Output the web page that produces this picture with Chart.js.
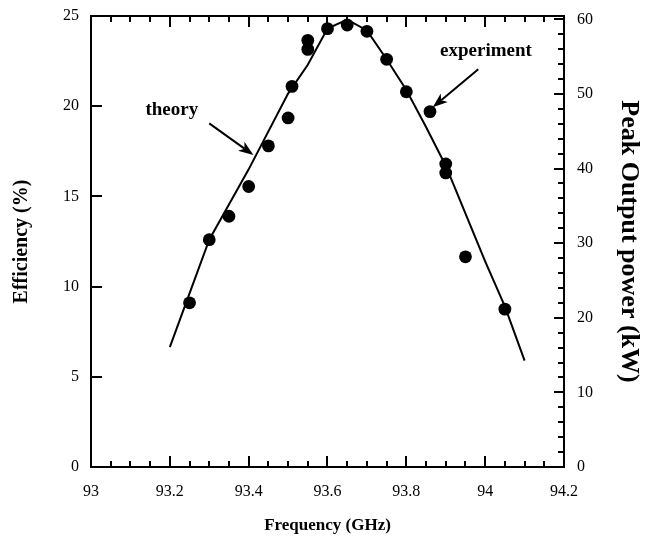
<!DOCTYPE html>
<html>
<head>
<meta charset="utf-8">
<script src="https://cdn.jsdelivr.net/npm/chart.js@4.4.1/dist/chart.umd.min.js"></script>
<style>
  html, body { margin: 0; padding: 0; background: #fff; }
  #wrap { width: 648px; height: 546px; }
</style>
</head>
<body>
<div id="wrap"><canvas id="c" width="648" height="546"></canvas></div>
<script>
// ---- data ----
const expFreq = [93.25, 93.3, 93.35, 93.4, 93.45, 93.5, 93.51, 93.55, 93.55, 93.6, 93.65, 93.7, 93.75, 93.8, 93.86, 93.9, 93.9, 93.95, 94.05];
const expEff  = [9.1, 12.6, 13.9, 15.55, 17.8, 19.35, 21.1, 23.65, 23.15, 24.3, 24.5, 24.15, 22.6, 20.8, 19.7, 16.8, 16.3, 11.65, 8.75];

const theoryFreq = [93.2, 93.3, 93.4, 93.5, 93.55, 93.6, 93.65, 93.7, 93.75, 93.8, 93.85, 93.9, 94.0, 94.05, 94.1];
const theoryEff  = [6.65, 12.6, 16.5, 20.7, 22.3, 24.3, 24.8, 24.2, 22.6, 20.9, 18.85, 16.7, 11.4, 8.9, 5.9];

const xTicks = [93, 93.2, 93.4, 93.6, 93.8, 94, 94.2];
const xTickLabels = ['93', '93.2', '93.4', '93.6', '93.8', '94', '94.2'];
const effTicks = [0, 5, 10, 15, 20, 25];
const powTicks = [0, 10, 20, 30, 40, 50, 60];

const xRange = [93, 94.2];
const effRange = [0, 25];
const powRange = [0, 60.45];

// annotation anchors (data units: frequency, efficiency)
const theoryLabel = { text: 'theory', x: 93.205, y: 19.8 };
const theoryArrow = { from: [93.30, 19.05], to: [93.412, 17.29] };
const expLabel = { text: 'experiment', x: 94.002, y: 23.06 };
const expArrow = { from: [93.9825, 22.05], to: [93.867, 19.94] };

Chart.defaults.font.family = '"Liberation Serif", "Times New Roman", serif';
Chart.defaults.color = '#000';

function drawArrow(ctx, x0, y0, x1, y1) {
  const ang = Math.atan2(y1 - y0, x1 - x0);
  const L = 15, W = 5.5, back = 11;
  ctx.beginPath();
  ctx.moveTo(x0, y0);
  ctx.lineTo(x1 - Math.cos(ang) * back, y1 - Math.sin(ang) * back);
  ctx.stroke();
  ctx.beginPath();
  ctx.moveTo(x1, y1);
  const bx = x1 - Math.cos(ang) * L, by = y1 - Math.sin(ang) * L;
  const nx = -Math.sin(ang), ny = Math.cos(ang);
  ctx.lineTo(bx + nx * W, by + ny * W);
  ctx.lineTo(x1 - Math.cos(ang) * back, y1 - Math.sin(ang) * back);
  ctx.lineTo(bx - nx * W, by - ny * W);
  ctx.closePath();
  ctx.fill();
}

const framePlugin = {
  id: 'frame',
  afterDraw(chart) {
    const { ctx, chartArea: a, scales } = chart;
    const x = scales.x, y = scales.y, y1 = scales.y1;
    ctx.save();
    ctx.strokeStyle = '#000';
    ctx.fillStyle = '#000';
    ctx.lineWidth = 2;
    ctx.lineCap = 'butt';
    ctx.strokeRect(a.left, a.top, a.right - a.left, a.bottom - a.top);
    ctx.beginPath();
    // x ticks every 0.05 (bottom pointing up, top pointing down)
    for (let i = 0; i <= 24; i++) {
      const v = xRange[0] + i * 0.05;
      const px = Math.round(x.getPixelForValue(v));
      const len = (i % 4 === 0) ? 11 : 6;
      ctx.moveTo(px, a.bottom); ctx.lineTo(px, a.bottom - len);
      ctx.moveTo(px, a.top); ctx.lineTo(px, a.top + len);
    }
    // left ticks every 5
    effTicks.forEach(v => {
      const py = Math.round(y.getPixelForValue(v));
      ctx.moveTo(a.left, py); ctx.lineTo(a.left + 11, py);
    });
    // right ticks every 2
    for (let v = 0; v <= 60; v += 2) {
      const py = Math.round(y1.getPixelForValue(v));
      const len = (v % 10 === 0) ? 10 : 6;
      ctx.moveTo(a.right, py); ctx.lineTo(a.right - len, py);
    }
    ctx.stroke();

    // annotations
    ctx.font = 'bold 19px "Liberation Serif", serif';
    ctx.textAlign = 'center';
    ctx.textBaseline = 'middle';
    ctx.fillText(theoryLabel.text, x.getPixelForValue(theoryLabel.x), y.getPixelForValue(theoryLabel.y));
    ctx.fillText(expLabel.text, x.getPixelForValue(expLabel.x), y.getPixelForValue(expLabel.y));
    ctx.lineWidth = 2;
    [theoryArrow, expArrow].forEach(ar => {
      drawArrow(ctx,
        x.getPixelForValue(ar.from[0]), y.getPixelForValue(ar.from[1]),
        x.getPixelForValue(ar.to[0]), y.getPixelForValue(ar.to[1]));
    });
    ctx.restore();
  }
};

const theoryData = theoryFreq.map((f, i) => ({ x: f, y: theoryEff[i] }));
const expData = expFreq.map((f, i) => ({ x: f, y: expEff[i] }));

function fixV(w) {
  return s => { s.width = w; s.paddingTop = 0; s.paddingBottom = 0; };
}

new Chart(document.getElementById('c'), {
  type: 'scatter',
  data: {
    datasets: [
      {
        label: 'theory',
        type: 'line',
        data: theoryData,
        borderColor: '#000',
        borderWidth: 2,
        pointRadius: 0,
        tension: 0,
        fill: false,
        yAxisID: 'y'
      },
      {
        label: 'experiment',
        data: expData,
        backgroundColor: '#000',
        borderColor: '#000',
        borderWidth: 0,
        pointRadius: 6.4,
        pointHoverRadius: 6.4,
        yAxisID: 'y'
      }
    ]
  },
  options: {
    responsive: false,
    animation: false,
    events: [],
    layout: { padding: { top: 16, left: 0, right: 0, bottom: 0 } },
    plugins: { legend: { display: false }, tooltip: { enabled: false } },
    scales: {
      x: {
        type: 'linear',
        position: 'bottom',
        min: xRange[0], max: xRange[1],
        afterBuildTicks: s => { s.ticks = xTicks.map(v => ({ value: v })); },
        afterFit: s => { s.height = 79; s.paddingLeft = 0; s.paddingRight = 0; },
        grid: { display: false, drawTicks: false },
        border: { display: false },
        ticks: {
          padding: 15,
          font: { size: 16 },
          color: '#000',
          maxRotation: 0,
          autoSkip: false,
          callback: (v, i) => xTickLabels[i]
        },
        title: {
          display: true,
          text: 'Frequency (GHz)',
          font: { size: 17, weight: 'bold' },
          color: '#000',
          padding: { top: 0, bottom: 10 }
        }
      },
      y: {
        type: 'linear',
        position: 'left',
        min: effRange[0], max: effRange[1],
        afterBuildTicks: s => { s.ticks = effTicks.map(v => ({ value: v })); },
        afterFit: fixV(91),
        grid: { display: false, drawTicks: false },
        border: { display: false },
        ticks: { padding: 12, font: { size: 16 }, color: '#000', autoSkip: false },
        title: {
          display: true,
          text: 'Efficiency (%)',
          font: { size: 20, weight: 'bold' },
          color: '#000',
          padding: { top: 10, bottom: 0 }
        }
      },
      y1: {
        type: 'linear',
        position: 'right',
        min: powRange[0], max: powRange[1],
        afterBuildTicks: s => { s.ticks = powTicks.map(v => ({ value: v })); },
        afterFit: fixV(84),
        grid: { display: false, drawTicks: false },
        border: { display: false },
        ticks: { padding: 13, font: { size: 16 }, color: '#000', autoSkip: false },
        title: {
          display: true,
          text: 'Peak Output power (kW)',
          font: { size: 26, weight: 'bold' },
          color: '#000',
          padding: { top: 4, bottom: 0 }
        }
      }
    }
  },
  plugins: [framePlugin]
});
</script>
</body>
</html>
